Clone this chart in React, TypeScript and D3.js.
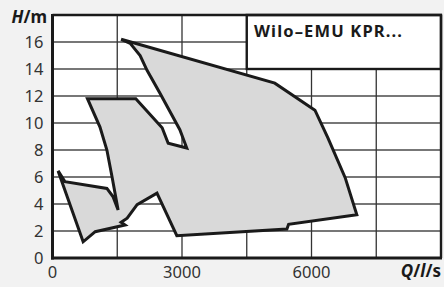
import React from "react";
import * as d3 from "d3";

const W = 444;
const H = 287;

// Envelope outline of the pump range (flow Q in l/s, head H in m)
const outlineQ = [
  1590, 5150, 6080, 6380, 6780, 7050, 5470, 5430, 2880, 2420, 1960, 1730, 1590, 1680,
  990, 710, 130, 290, 1260, 1400, 1520, 1380, 1260, 1100, 810, 1930, 2540, 2680, 3110,
  2950, 2490, 2190, 2030, 1800,
];
const outlineH = [
  16.2, 12.95, 10.95, 8.9, 5.95, 3.2, 2.5, 2.15, 1.65, 4.8, 3.95, 2.95, 2.65, 2.45,
  1.95, 1.2, 6.45, 5.65, 5.15, 4.55, 3.55, 6.0, 8.0, 9.7, 11.8, 11.8, 9.65, 8.5, 8.15,
  9.5, 12.2, 13.9, 15.0, 15.9,
];

const xTickLabels = [0, 3000, 6000];
const yTickLabels = [0, 2, 4, 6, 8, 10, 12, 14, 16];
const xGrid = [1500, 3000, 4500, 6000, 7500];
const yGrid = [2, 4, 6, 8, 10, 12, 14, 16];
const legendTitle = "Wilo–EMU KPR...";

const FONT = "'Noto Sans', 'Open Sans', sans-serif";

export default function App() {
  const left = 52.5;
  const right = 441;
  const top = 15;
  const bottom = 258;
  const x = d3.scaleLinear().domain([0, 9000]).range([left, right]);
  const y = d3.scaleLinear().domain([0, 18]).range([bottom, top]);

  const pts: [number, number][] = outlineQ.map((q, i) => [q, outlineH[i]]);
  const path = d3
    .line<[number, number]>()
    .x((d) => x(d[0]))
    .y((d) => y(d[1]))
    .curve(d3.curveLinearClosed)(pts) as string;

  const legendX = x(4500);
  const legendY2 = y(14);

  return (
    <svg
      width={W}
      height={H}
      style={{ position: "absolute", left: 0, top: 0, display: "block" }}
      fontFamily={FONT}
    >
      <rect x={0} y={0} width={W} height={H} fill="#f2f2f2" />
      <rect x={left} y={top} width={right - left} height={bottom - top} fill="#ffffff" />
      {yGrid.map((v) => (
        <line
          key={"yg" + v}
          x1={left}
          x2={right}
          y1={y(v)}
          y2={y(v)}
          stroke="#4a4a4a"
          strokeWidth={1.6}
        />
      ))}
      {xGrid.map((v) => (
        <line
          key={"xg" + v}
          x1={x(v)}
          x2={x(v)}
          y1={top}
          y2={bottom}
          stroke="#333"
          strokeWidth={1.3}
        />
      ))}
      <path d={path} fill="#d9d9d9" stroke="#1a1a1a" strokeWidth={3} strokeLinejoin="miter" strokeMiterlimit={4} />
      <rect
        x={legendX}
        y={top}
        width={right - legendX}
        height={legendY2 - top}
        fill="#ffffff"
        stroke="#1a1a1a"
        strokeWidth={2.4}
      />
      <text
        x={254}
        y={36.7}
        fontSize={16.5}
        fontWeight="bold"
        fill="#1a1a1a"
        textLength={148}
        lengthAdjust="spacing"
      >
        {legendTitle}
      </text>
      {/* frame */}
      <line x1={left} x2={right + 1} y1={top} y2={top} stroke="#1a1a1a" strokeWidth={2.4} />
      <line x1={right} x2={right} y1={top} y2={bottom} stroke="#1a1a1a" strokeWidth={2.4} />
      <line x1={left} x2={left} y1={top - 1} y2={bottom + 1.5} stroke="#1a1a1a" strokeWidth={3} />
      <line x1={left - 1.5} x2={right + 1} y1={bottom} y2={bottom} stroke="#1a1a1a" strokeWidth={3} />
      {yTickLabels.map((v) => (
        <text
          key={"yl" + v}
          x={43.5}
          y={y(v) + 6}
          fontSize={16.5}
          textAnchor="end"
          fill="#333"
        >
          {v}
        </text>
      ))}
      {xTickLabels.map((v) => (
        <text
          key={"xl" + v}
          x={x(v)}
          y={277.5}
          fontSize={16.5}
          textAnchor="middle"
          fill="#333"
        >
          {v}
        </text>
      ))}
      <text x={11.5} y={23.3} fontSize={17} fontWeight="bold" fill="#1a1a1a">
        <tspan fontStyle="italic">H</tspan>
        <tspan>/m</tspan>
      </text>
      <text x={441} y={276.5} fontSize={17} fontWeight="bold" textAnchor="end" fill="#1a1a1a">
        <tspan fontStyle="italic">Q</tspan>
        <tspan>/</tspan>
        <tspan fontStyle="italic">l</tspan>
        <tspan>/s</tspan>
      </text>
    </svg>
  );
}
